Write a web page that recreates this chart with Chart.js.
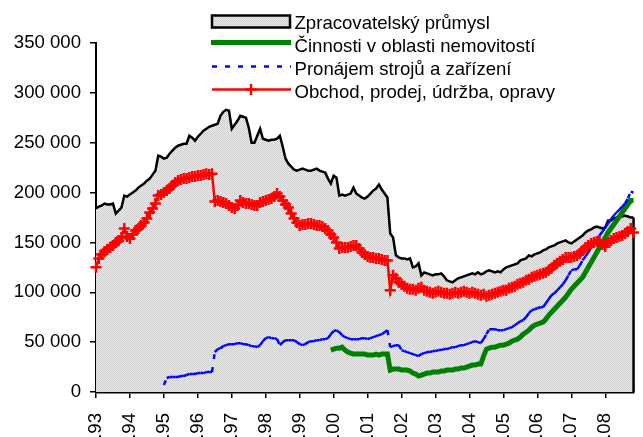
<!DOCTYPE html>
<html>
<head>
<meta charset="utf-8">
<script src="https://cdn.jsdelivr.net/npm/chart.js@4.4.0/dist/chart.umd.min.js"></script>
<style>
  html, body { margin: 0; padding: 0; background: #fff; }
  canvas { display: block; }
</style>
</head>
<body>
<canvas id="myChart" width="643" height="437"></canvas>
<script>
//Category parts: roman month + two digit year (I.93 = leden 1993), series ends XI.08
const months = ['I', 'II', 'III', 'IV', 'V', 'VI', 'VII', 'VIII', 'IX', 'X', 'XI', 'XII'];
const years = ['93', '94', '95', '96', '97', '98', '99', '00', '01', '02', '03', '04', '05', '06', '07', '08'];

//Values in thousands, one row = one year (I..XII)
const zpracovatelsky = [
  184, 186, 187, 189, 188, 188, 189, 179, 182, 185, 197, 196,
  198, 200, 202, 205, 207, 209, 212, 214, 218, 222, 237, 236,
  234, 235, 239, 242, 245, 247, 248, 249, 249, 257, 255, 252,
  256, 259, 262, 264, 266, 267, 268, 269, 277, 281, 283, 282,
  264, 268, 272, 277, 276, 275, 265, 250, 250, 257, 264, 254,
  253, 252, 253, 253, 254, 257, 246, 234, 229, 226, 223, 222,
  223, 224, 223, 222, 222, 223, 224, 222, 221, 220, 214, 209,
  217, 215, 197, 198, 197, 198, 199, 205, 199, 197, 195, 194,
  196, 199, 202, 204, 208, 203, 199, 195, 159, 155, 137, 135,
  134, 134, 133, 134, 125, 126, 129, 117, 120, 119, 118, 117,
  118, 118, 119, 116, 112, 111, 110, 112, 114, 115, 116, 117,
  118, 119, 118, 120, 118, 119, 121, 122, 121, 120, 121, 120,
  123, 125, 126, 127, 128, 129, 132, 133, 134, 137, 136, 138,
  139, 140, 142, 143, 145, 146, 147, 149, 150, 151, 152, 150,
  149, 151, 153, 155, 157, 160, 162, 163, 165, 166, 165, 164,
  165, 172, 172, 174, 175, 176, 176, 177, 176, 175, 175
];
const nemovitosti = [
  null, null, null, null, null, null, null, null, null, null, null, null,
  null, null, null, null, null, null, null, null, null, null, null, null,
  null, null, null, null, null, null, null, null, null, null, null, null,
  null, null, null, null, null, null, null, null, null, null, null, null,
  null, null, null, null, null, null, null, null, null, null, null, null,
  null, null, null, null, null, null, null, null, null, null, null, null,
  null, null, null, null, null, null, null, null, null, null, null, 42,
  43, 44, 44, 45, 42, 40, 39, 38, 38, 38, 38, 38,
  37, 37, 37, 38, 37, 38, 38, 38, 22, 23, 23, 23,
  22, 22, 22, 21, 19, 18, 16, 17, 18, 19, 19, 20,
  20, 20, 21, 21, 22, 22, 22, 23, 23, 24, 24, 25,
  26, 27, 27, 28, 28, 36, 43, 44, 45, 45, 46, 47,
  47, 48, 49, 51, 52, 53, 55, 58, 60, 62, 65, 67,
  68, 69, 70, 73, 77, 80, 83, 86, 89, 92, 95, 99,
  103, 106, 109, 112, 115, 120, 125, 130, 135, 140, 145, 150,
  155, 160, 164, 168, 172, 176, 180, 184, 188, 192, 192
];
const pronajem = [
  null, null, null, null, null, null, null, null, null, null, null, null,
  null, null, null, null, null, null, null, null, null, null, null, null,
  7, 14, 15, 15, 15, 15, 16, 16, 17, 18, 18, 18,
  19, 19, 19, 20, 20, 20, 40, 43, 44, 46, 47, 48,
  48, 48, 49, 49, 48, 48, 47, 46, 46, 45, 47, 51,
  54, 55, 54, 54, 53, 47, 50, 52, 52, 52, 52, 50,
  48, 47, 48, 50, 51, 51, 52, 52, 53, 53, 54, 58,
  61, 62, 60, 57, 55, 54, 53, 53, 53, 53, 54, 54,
  53, 54, 55, 56, 57, 58, 60, 62, 45, 46, 47, 47,
  42, 41, 40, 39, 38, 37, 36, 38, 39, 40, 40, 41,
  41, 42, 42, 43, 43, 44, 45, 45, 46, 47, 47, 48,
  49, 50, 51, 50, 49, 53, 58, 63, 63, 63, 62, 62,
  62, 63, 64, 65, 67, 69, 71, 72, 75, 79, 82, 83,
  84, 85, 85, 89, 93, 97, 99, 102, 105, 108, 112, 117,
  122, 123, 123, 127, 132, 136, 140, 145, 149, 153, 157, 161,
  165, 169, 173, 177, 180, 183, 186, 189, 194, 201, 200
];
const obchod = [
  125, 134, 138, 141, 143, 145, 147, 150, 152, 155, 164, 156,
  154, 158, 162, 164, 167, 170, 174, 180, 184, 189, 197, 198,
  200, 202, 204, 207, 210, 212, 213, 214, 214, 215, 216, 216,
  217, 217, 218, 219, 218, 219, 191, 192, 191, 190, 189, 187,
  185, 184, 187, 192, 190, 189, 189, 188, 187, 187, 190, 191,
  192, 193, 194, 196, 199, 196, 192, 188, 185, 179, 174, 170,
  167, 168, 168, 169, 169, 168, 167, 167, 166, 164, 162, 158,
  155, 150, 144, 145, 145, 145, 146, 147, 147, 144, 140, 138,
  136, 135, 135, 134, 134, 133, 132, 132, 102, 117, 114, 110,
  108, 106, 104, 103, 103, 102, 104, 105, 102, 101, 100, 99,
  100, 101, 100, 99, 99, 98, 99, 100, 99, 100, 101, 100,
  99, 100, 99, 98, 97, 98, 96, 97, 98, 99, 100, 101,
  102, 102, 104, 105, 106, 108, 109, 110, 112, 113, 115, 116,
  117, 118, 119, 120, 122, 124, 127, 129, 131, 133, 135, 135,
  135, 136, 137, 139, 142, 145, 147, 149, 150, 151, 152, 148,
  146, 150, 152, 154, 155, 156, 157, 159, 161, 164, 160
];

let categories = [];
for (let y = 0; y < years.length; y++) {
  for (let m = 0; m < months.length; m++) {
    if (categories.length < zpracovatelsky.length) categories.push(months[m] + '.' + years[y]);
  }
}

const FONT = { family: "'Liberation Sans', Arial, sans-serif", size: 18.6 };

let canvas = document.getElementById('myChart');
let ctx = canvas.getContext('2d');

//Fine gray dotted fill like the excel area
let tile = document.createElement('canvas');
tile.width = 2; tile.height = 2;
let tctx = tile.getContext('2d');
tctx.fillStyle = '#ececec'; tctx.fillRect(0, 0, 2, 2);
tctx.fillStyle = '#cdcdcd'; tctx.fillRect(0, 0, 1, 1); tctx.fillRect(1, 1, 1, 1);
let grayFill = ctx.createPattern(tile, 'repeat');

//Right edge of the area outline
const areaEdge = {
  id: 'areaEdge',
  afterDatasetDraw(chart, args) {
    if (args.index !== 0) return;
    let pts = args.meta.data;
    let last = pts[pts.length - 1];
    let c = chart.ctx;
    c.save();
    c.strokeStyle = '#000';
    c.lineWidth = 2.5;
    c.beginPath();
    c.moveTo(last.x, last.y);
    c.lineTo(last.x, chart.scales.y.getPixelForValue(0));
    c.stroke();
    c.restore();
  }
};

//Legend stacked top right, over the plot
const boxLegend = {
  id: 'boxLegend',
  afterDraw(chart) {
    let c = chart.ctx;
    let ds = chart.data.datasets;
    let x0 = 211, x1 = 291, tx = 294.5;
    let base = [28.5, 51.5, 74.5, 97.5];
    c.save();
    // area sample
    c.fillStyle = grayFill;
    c.fillRect(x0 + 1, base[0] - 13, x1 - x0 - 2, 12);
    c.strokeStyle = '#000';
    c.lineWidth = 2.5;
    c.strokeRect(x0 + 1, base[0] - 13, x1 - x0 - 2, 12);
    // green
    c.strokeStyle = ds[1].borderColor;
    c.lineWidth = ds[1].borderWidth;
    c.beginPath(); c.moveTo(x0, base[1] - 9); c.lineTo(x1, base[1] - 9); c.stroke();
    // blue dashed
    c.strokeStyle = ds[2].borderColor;
    c.lineWidth = ds[2].borderWidth;
    c.setLineDash(ds[2].borderDash);
    c.beginPath(); c.moveTo(x0 + 1, base[2] - 8); c.lineTo(x1, base[2] - 8); c.stroke();
    c.setLineDash([]);
    // red with cross
    c.strokeStyle = ds[3].borderColor;
    c.lineWidth = ds[3].borderWidth;
    c.beginPath(); c.moveTo(x0 + 1, base[3] - 8); c.lineTo(x1, base[3] - 8); c.stroke();
    c.lineWidth = ds[3].pointBorderWidth;
    let cx = (x0 + x1) / 2, cy = base[3] - 8, r = ds[3].pointRadius;
    c.beginPath();
    c.moveTo(cx, cy - r); c.lineTo(cx, cy + r);
    c.moveTo(cx - r, cy); c.lineTo(cx + r, cy);
    c.stroke();
    // texts
    c.fillStyle = '#000';
    c.font = FONT.size + 'px ' + FONT.family;
    c.textAlign = 'left';
    c.textBaseline = 'alphabetic';
    for (let i = 0; i < ds.length; i++) {
      c.fillText(ds[i].label, tx, base[i]);
    }
    c.restore();
  }
};

let myChart = new Chart(ctx, {
  type: 'line',
  data: {
    labels: categories,
    datasets: [
      {
        label: 'Zpracovatelský průmysl',
        data: zpracovatelsky,
        borderColor: '#000000',
        borderWidth: 2.5,
        backgroundColor: grayFill,
        fill: 'origin',
        pointRadius: 0,
        order: 4
      },
      {
        label: 'Činnosti v oblasti nemovitostí',
        data: nemovitosti,
        borderColor: '#008000',
        borderWidth: 5,
        fill: false,
        pointRadius: 0,
        order: 3
      },
      {
        label: 'Pronájem strojů a zařízení',
        data: pronajem,
        borderColor: '#0000ff',
        borderWidth: 2.5,
        borderDash: [5, 8],
        //excel restarts the dash on every segment
        segment: {
          borderDash: [5, 8],
          borderDashOffset: c => (c.p0DataIndex % 2) * 0.001
        },
        fill: false,
        pointRadius: 0,
        order: 2
      },
      {
        label: 'Obchod, prodej, údržba, opravy',
        data: obchod,
        borderColor: '#ff0000',
        borderWidth: 2.5,
        pointStyle: 'cross',
        pointRadius: 5.5,
        pointBorderWidth: 2.5,
        pointBorderColor: '#ff0000',
        pointBackgroundColor: '#ff0000',
        fill: false,
        clip: 8,
        order: 1
      }
    ]
  },
  options: {
    responsive: false,
    animation: false,
    events: [],
    layout: { padding: { top: 43, right: 3, left: 0, bottom: 0 } },
    plugins: {
      legend: { display: false },
      tooltip: { enabled: false }
    },
    scales: {
      x: {
        z: 1,
        grid: { drawOnChartArea: false, drawTicks: true, tickLength: 6, color: '#000', lineWidth: 1.5 },
        border: { color: '#000', width: 2.5 },
        ticks: {
          autoSkip: false,
          maxRotation: 90,
          minRotation: 90,
          padding: 15,
          color: '#000',
          font: FONT
        },
        afterBuildTicks: scale => { scale.ticks = scale.ticks.filter(t => t.value % 12 === 0); },
        afterFit: scale => { scale.height = 437 - 392; }
      },
      y: {
        z: 1,
        min: 0,
        max: 350,
        grid: { drawOnChartArea: false, drawTicks: true, tickLength: 6, color: '#000', lineWidth: 1.5 },
        border: { color: '#000', width: 2 },
        ticks: {
          stepSize: 50,
          padding: 9,
          color: '#000',
          font: FONT,
          callback: v => (v === 0 ? '0' : v + ' 000')
        },
        afterFit: scale => { scale.width = 96; }
      }
    }
  },
  plugins: [areaEdge, boxLegend]
});
</script>
</body>
</html>
